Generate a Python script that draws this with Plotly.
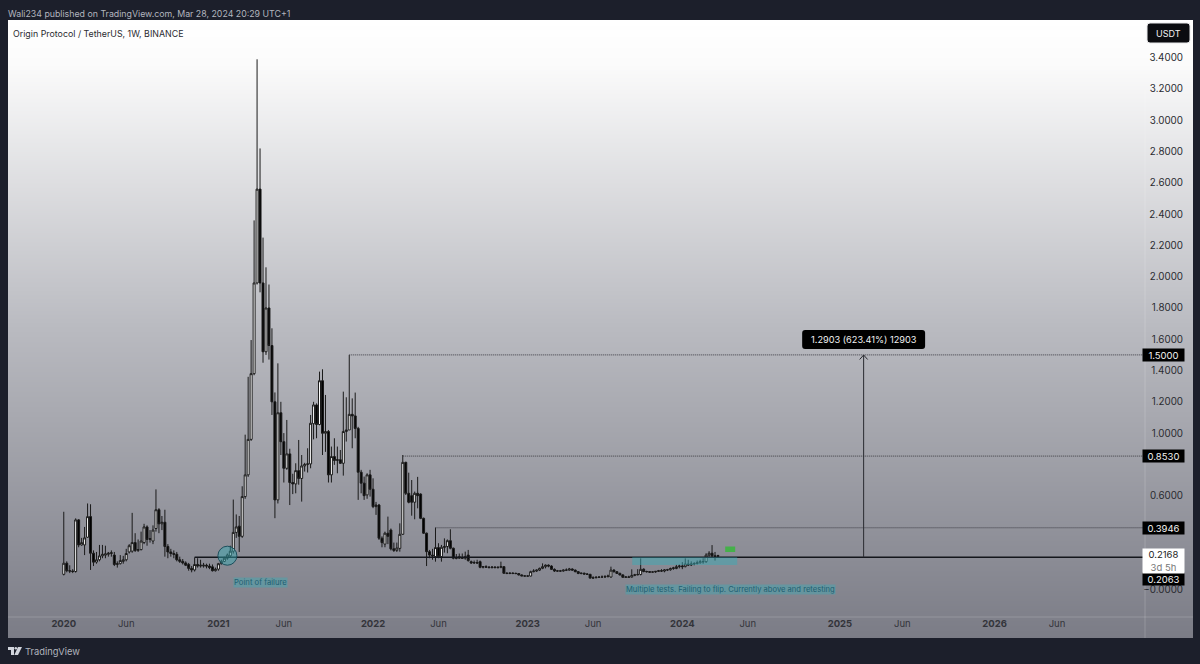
"""Origin Protocol / TetherUS weekly chart."""

import pandas as pd
import plotly.graph_objects as go

opens = [
    .097, .168, .12, .118, .115, .445, .285, .285, .334, .466,
    .232, .175, .19, .215, .22, .225, .23, .22, .16, .165,
    .18, .19, .24, .245, .30, .25, .255, .30, .40, .32,
    .31, .39, .51, .42, .43, .275, .24, .23, .225, .19,
    .18, .17, .16, .135, .125, .16, .15, .15, .155, .15,
    .145, .12, .13, .165, .18, .2, .215, .245, .365, .405,
    .34, .594, .733, .96, 1.38, 1.96, 2.56, 1.96, 1.52, 1.80,
    1.56, 1.2, .573, 1.13, .945, .775, .867, .684, .675, .76,
    .71, .79, .80, .803, 1.06, 1.18, 1.055, 1.335, .999, 1.01,
    .733, .85, .825, .83, .807, 1.01, 1.02, 1.12, 1.11, 1.03,
    .75, .68, .605, .733, .641, .53, .54, .328, .29, .36,
    .38, .26, .25, .263, .353, .813, .615, .6, .558, .615,
    .61, .455, .36, .242, .22, .21, .268, .21, .268, .275,
    .312, .264, .205, .20, .205, .20, .22, .178, .17, .172,
    .178, .142, .146, .143, .14, .143, .14, .142, .146, .104,
    .103, .104, .103, .102, .093, .087, .086, .086, .114, .118,
    .124, .135, .146, .156, .15, .129, .118, .119, .118, .124,
    .124, .131, .124, .114, .103, .104, .099, .097, .073, .075,
    .078, .079, .08, .082, .08, .124, .114, .103, .093, .078,
    .08, .079, .09, .094, .096, .13, .115, .114, .111, .112,
    .116, .12, .118, .125, .126, .134, .134, .146, .15, .146,
    .163, .157, .163, .166, .171, .178, .178, .22, .232, .215,
    .212,
]
highs = [
    .497, .18, .155, .13, .455, .45, .33, .40, .55, .545,
    .25, .24, .285, .285, .28, .24, .25, .24, .18, .22,
    .215, .26, .29, .49, .36, .32, .37, .42, .41, .38,
    .41, .64, .52, .47, .51, .29, .26, .25, .24, .21,
    .195, .18, .17, .15, .205, .2, .19, .17, .165, .165,
    .16, .14, .17, .19, .21, .23, .28, .575, .48, .47,
    .66, .99, 1.36, 1.595, 2.36, 3.39, 2.82, 2.25, 2.06, 1.95,
    1.67, 1.26, 1.446, 1.2, 1.0, 1.084, .9, .74, .807, .956,
    .86, .81, .903, 1.116, 1.2, 1.19, 1.393, 1.408, 1.244, 1.02,
    .914, .967, .914, .892, 1.265, 1.229, 1.50, 1.222, 1.259, 1.04,
    .765, .722, .743, .765, .711, .56, .547, .34, .37, .466,
    .39, .30, .30, .423, .86, .817, .747, .70, .626, .72,
    .615, .46, .364, .253, .26, .396, .296, .285, .327, .32,
    .385, .268, .227, .23, .23, .242, .253, .185, .185, .19,
    .185, .15, .155, .15, .15, .15, .148, .178, .15, .11,
    .11, .11, .108, .105, .097, .09, .09, .12, .13, .128,
    .14, .167, .16, .16, .155, .135, .125, .125, .128, .135,
    .138, .135, .128, .118, .108, .108, .105, .10, .085, .085,
    .085, .09, .092, .095, .146, .13, .118, .108, .098, .085,
    .088, .129, .10, .13, .199, .135, .12, .118, .116, .118,
    .125, .13, .13, .132, .14, .145, .158, .16, .175, .199,
    .19, .18, .175, .185, .19, .20, .232, .245, .284, .24,
    .222,
]
lows = [
    .09, .11, .105, .105, .108, .27, .28, .22, .33, .125,
    .15, .165, .18, .2, .2, .21, .21, .15, .14, .16,
    .165, .18, .23, .235, .24, .24, .25, .29, .28, .30,
    .29, .37, .36, .38, .21, .2, .21, .2, .18, .17,
    .16, .15, .12, .11, .115, .14, .14, .14, .135, .13,
    .115, .115, .12, .16, .175, .19, .205, .23, .33, .24,
    .33, .58, .72, .95, 1.37, 1.95, 1.90, 1.45, 1.5, 1.47,
    1.116, .456, .55, .86, .684, .765, .54, .61, .615, .67,
    .562, .754, .748, .775, .96, .967, 1.05, .86, .88, .684,
    .684, .797, .743, .803, .728, .946, 1.02, .903, .967, .573,
    .615, .573, .58, .594, .52, .477, .317, .27, .27, .29,
    .25, .24, .24, .242, .349, .604, .551, .472, .449, .519,
    .45, .355, .15, .2, .19, .178, .2, .178, .236, .232,
    .257, .193, .193, .195, .195, .19, .178, .163, .163, .163,
    .136, .135, .138, .136, .135, .136, .134, .136, .10, .098,
    .098, .098, .098, .09, .086, .084, .083, .084, .11, .112,
    .118, .13, .135, .142, .125, .112, .113, .113, .114, .118,
    .12, .12, .11, .098, .097, .095, .094, .07, .068, .072,
    .074, .075, .075, .078, .075, .108, .10, .09, .076, .075,
    .076, .076, .085, .09, .09, .11, .108, .106, .107, .107,
    .112, .112, .11, .118, .12, .126, .13, .135, .13, .142,
    .15, .15, .155, .16, .165, .165, .17, .21, .205, .185,
    .205,
]
closes = [
    .168, .12, .118, .115, .445, .285, .30, .33, .466, .232,
    .175, .19, .215, .225, .228, .232, .235, .16, .165, .185,
    .19, .23, .28, .30, .25, .255, .31, .40, .32, .325,
    .38, .51, .42, .43, .275, .24, .23, .225, .19, .18,
    .17, .155, .135, .125, .16, .15, .155, .155, .15, .14,
    .12, .13, .165, .18, .2, .22, .245, .365, .40, .34,
    .594, .733, .96, 1.38, 1.96, 2.56, 1.96, 1.52, 1.80, 1.56,
    1.2, .573, 1.13, .945, .775, .867, .684, .675, .76, .71,
    .79, .80, .803, 1.063, 1.18, 1.055, 1.335, .999, 1.01, .733,
    .85, .825, .83, .807, 1.01, 1.02, 1.12, 1.11, 1.03, .75,
    .68, .60, .733, .641, .53, .54, .328, .30, .36, .34,
    .26, .25, .265, .353, .813, .615, .558, .558, .615, .60,
    .455, .36, .242, .22, .215, .268, .21, .27, .275, .312,
    .264, .20, .20, .21, .20, .21, .185, .17, .172, .17,
    .142, .146, .143, .14, .143, .14, .142, .146, .104, .103,
    .104, .103, .102, .093, .087, .086, .086, .114, .118, .124,
    .135, .146, .156, .15, .129, .118, .119, .118, .124, .124,
    .131, .124, .114, .103, .104, .099, .097, .073, .075, .078,
    .079, .08, .082, .086, .124, .114, .103, .093, .078, .08,
    .079, .09, .094, .096, .129, .115, .114, .111, .112, .116,
    .12, .118, .125, .126, .134, .138, .146, .15, .146, .163,
    .157, .163, .166, .171, .178, .178, .22, .232, .215, .212,
    .2168,
]
assert len(opens) == len(highs) == len(lows) == len(closes)

dates = pd.date_range("2020-01-06", periods=len(closes), freq="W-MON")

price_ticks = [3.4, 3.2, 3.0, 2.8, 2.6, 2.4, 2.2, 2.0, 1.8, 1.6, 1.4, 1.2, 1.0, 0.6, 0.0]
price_labels = ["3.4000", "3.2000", "3.0000", "2.8000", "2.6000", "2.4000", "2.2000", "2.0000",
                "1.8000", "1.6000", "1.4000", "1.2000", "1.0000", "0.6000", "−0.0000"]
time_ticks = ["2020-01-06", "2020-06-01", "2021-01-04", "2021-06-07", "2022-01-03", "2022-06-06", "2023-01-02",
              "2023-06-05", "2024-01-01", "2024-06-03", "2025-01-06", "2025-06-02", "2026-01-05", "2026-06-01"]
time_labels = ["<b>2020</b>", "Jun", "<b>2021</b>", "Jun", "<b>2022</b>", "Jun", "<b>2023</b>",
               "Jun", "<b>2024</b>", "Jun", "<b>2025</b>", "Jun", "<b>2026</b>", "Jun"]

resistance_a = 1.5
resistance_b = 0.853
resistance_c = 0.3946
flip_level = 0.2063

# frame of the chart in window pixels
LEFT, RIGHT, TOP, BOTTOM = 7.5, 1193, 20, 638
FONT = "Inter"


def px_date(px):
    # first bar sits at 63.3px, one week is 2.975px
    return dates[0] + pd.Timedelta(days=(px - 63.3) / 0.425)


def px_price(py):
    return (589.5 - py) / 156.4


def paper_x(px):
    return (px - LEFT) / (RIGHT - LEFT)


def paper_y(py):
    return 1 - (py - TOP) / (BOTTOM - TOP)


def rounded(x0, y0, x1, y1, r=3):
    xa, xb, xc, xd = paper_x(x0), paper_x(x0 + r), paper_x(x1 - r), paper_x(x1)
    ya, yb, yc, yd = paper_y(y0), paper_y(y0 + r), paper_y(y1 - r), paper_y(y1)
    return (f"M{xb},{ya} L{xc},{ya} Q{xd},{ya} {xd},{yb} L{xd},{yc} Q{xd},{yd} {xc},{yd} "
            f"L{xb},{yd} Q{xa},{yd} {xa},{yc} L{xa},{yb} Q{xa},{ya} {xb},{ya} Z")


x_range = [px_date(LEFT), px_date(RIGHT)]
y_range = [px_price(BOTTOM), px_price(TOP)]

fig = go.Figure()

# background gradient, light at the top and grey at the bottom
fig.add_trace(go.Heatmap(
    x=x_range, y=y_range, z=[[0, 0], [1, 1]], zsmooth="best", showscale=False, hoverinfo="skip",
    colorscale=[[0, "#7b7c86"], [0.5, "#b9bac0"], [0.93, "#fbfbfb"], [1, "#ffffff"]], zmin=0, zmax=1,
))

fig.add_trace(go.Candlestick(
    x=dates, open=opens, high=highs, low=lows, close=closes,
    increasing=dict(fillcolor="#ffffff", line=dict(color="#1a1a1a", width=1)),
    decreasing=dict(fillcolor="#000000", line=dict(color="#1a1a1a", width=1)),
    whiskerwidth=0, showlegend=False,
))

line_end = px_date(1143)
arrow_x = px_date(863.5)
dotted = dict(color="#3c3c44", width=1, dash="1px,1px")
shapes = [
    dict(type="line", x0=dates[96], x1=line_end, y0=resistance_a, y1=resistance_a, line=dotted),
    dict(type="line", x0=dates[114], x1=line_end, y0=resistance_b, y1=resistance_b, line=dotted),
    dict(type="line", x0=dates[125], x1=line_end, y0=resistance_c, y1=resistance_c, line=dotted),
    dict(type="line", x0=dates[44], x1=line_end, y0=flip_level, y1=flip_level,
         line=dict(color="#14161c", width=1.6)),
    # tested zone and point of failure
    dict(type="rect", x0=px_date(632), x1=px_date(737), y0=0.157, y1=flip_level,
         fillcolor="rgba(60,170,180,0.5)", line=dict(width=0)),
    dict(type="circle", x0=px_date(217.5), x1=px_date(236.5), y0=px_price(565.2), y1=px_price(546.2),
         fillcolor="rgba(50,170,180,0.45)", line=dict(color="#1d4f5c", width=1)),
    dict(type="rect", x0=px_date(725), x1=px_date(735), y0=px_price(552), y1=px_price(546.5),
         fillcolor="#45b04a", line=dict(width=0)),
    # measure arrow, open head
    dict(type="line", x0=arrow_x, x1=arrow_x, y0=flip_level, y1=resistance_a, line=dict(color="#2a2b30", width=1)),
    dict(type="line", xref="paper", yref="paper", x0=paper_x(859.5), x1=paper_x(863.5), y0=paper_y(359.5),
         y1=paper_y(355), line=dict(color="#2a2b30", width=1)),
    dict(type="line", xref="paper", yref="paper", x0=paper_x(867.5), x1=paper_x(863.5), y0=paper_y(359.5),
         y1=paper_y(355), line=dict(color="#2a2b30", width=1)),
    # axis separators
    dict(type="line", xref="paper", yref="paper", x0=paper_x(1145), x1=paper_x(1145), y0=0, y1=1,
         line=dict(color="rgba(255,255,255,0.18)", width=1)),
    dict(type="line", xref="paper", yref="paper", x0=0, x1=1, y0=paper_y(617), y1=paper_y(617),
         line=dict(color="rgba(255,255,255,0.18)", width=1)),
    # measure tooltip and currency button
    dict(type="path", xref="paper", yref="paper", path=rounded(802, 330, 925, 349), fillcolor="#000000",
         line=dict(width=0)),
    dict(type="path", xref="paper", yref="paper", path=rounded(1147, 23, 1190, 43), fillcolor="#0b0c10",
         line=dict(color="#e8e8ea", width=1)),
    # TradingView logo
    dict(type="path", xref="paper", yref="paper", fillcolor="#d1d4dc", line=dict(width=0),
         path=(f"M{paper_x(7.5)},{paper_y(647)} L{paper_x(13.5)},{paper_y(647)} L{paper_x(13.5)},{paper_y(655)} "
               f"L{paper_x(10.5)},{paper_y(655)} L{paper_x(10.5)},{paper_y(650)} L{paper_x(7.5)},{paper_y(650)} Z")),
    dict(type="circle", xref="paper", yref="paper", fillcolor="#d1d4dc", line=dict(width=0),
         x0=paper_x(14), x1=paper_x(16.6), y0=paper_y(649.6), y1=paper_y(647)),
    dict(type="path", xref="paper", yref="paper", fillcolor="#d1d4dc", line=dict(width=0),
         path=(f"M{paper_x(17.5)},{paper_y(647)} L{paper_x(21.5)},{paper_y(647)} L{paper_x(17.5)},{paper_y(655)} "
               f"L{paper_x(13.8)},{paper_y(655)} Z")),
]


def text(px, py, label, size=10, color="#222222", anchor="left", **kw):
    return dict(xref="paper", yref="paper", x=paper_x(px), y=paper_y(py), text=label, showarrow=False,
                xanchor=anchor, yanchor="middle", font=dict(family=FONT, size=size, color=color), **kw)


def tag(py, label):
    return text(1163.5, py, label, size=9.5, color="#f2f2f2", anchor="center", bgcolor="#000000",
                width=41, height=12, borderpad=0)


annotations = [
    text(5.5, 13, "Wali234 published on TradingView.com, Mar 28, 2024 20:29 UTC+1", size=8.8, color="#b2b5be"),
    text(11, 33, "Origin Protocol / TetherUS, 1W, BINANCE", size=8.85, color="#2a2b30"),
    text(23, 651, "TradingView", size=9.3, color="#b2b5be"),
    text(1168.5, 33, "USDT", size=9, color="#f2f2f2", anchor="center"),
    text(863.5, 339.5, "1.2903 (623.41%) 12903", size=9.2, color="#f2f2f2", anchor="center"),
    tag(355, "1.5000"),
    tag(456, "0.8530"),
    tag(527.5, "0.3946"),
    tag(578.5, "0.2063"),
    text(1163.5, 561, "0.2168<br><span style='color:#777777'>3d 5h</span>", size=9.5, color="#222222",
         anchor="center", bgcolor="#ffffff", width=41, height=24, borderpad=0),
    text(233, 582, "Point of failure", size=7.7, color="#1f5f72", bgcolor="rgba(70,165,175,0.5)", borderpad=0),
    text(625, 589, "Multiple tests. Failing to flip. Currently above and retesting", size=7.6, color="#1f5f72",
         bgcolor="rgba(70,165,175,0.5)", borderpad=0),
]

fig.update_layout(
    width=1200,
    height=664,
    margin=dict(l=LEFT, r=1200 - RIGHT, t=TOP, b=664 - BOTTOM),
    paper_bgcolor="#1c1f2b",
    plot_bgcolor="#ffffff",
    showlegend=False,
    boxgap=0.05,
    shapes=shapes,
    annotations=annotations,
    xaxis=dict(
        range=x_range, type="date", rangeslider=dict(visible=False), showgrid=False, zeroline=False, showline=False,
        tickmode="array", tickvals=time_ticks, ticktext=time_labels, ticks="", ticklabelposition="inside",
        ticklabelstandoff=6, tickfont=dict(family=FONT, size=9.5, color="#33343a"),
    ),
    yaxis=dict(
        range=y_range, side="right", showgrid=False, zeroline=False, showline=False,
        tickmode="array", tickvals=price_ticks, ticktext=price_labels, ticks="", ticklabelposition="inside",
        ticklabelstandoff=7, tickfont=dict(family=FONT, size=9.8, color="#2a2b30"),
    ),
)

fig.write_html("out.html", config={"displayModeBar": False}, post_script="document.body.style.margin='0';")
